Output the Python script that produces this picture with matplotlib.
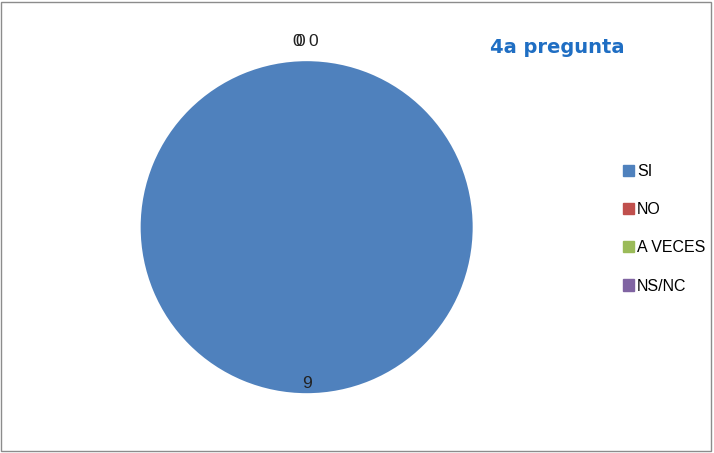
import numpy as np
import matplotlib.pyplot as plt
from matplotlib.patches import Rectangle

categories = ["SI", "NO", "A VECES", "NS/NC"]
values = [9, 0, 0, 0]
colors = ["#4F81BD", "#C0504D", "#9BBB59", "#8064A2"]
title = "4a pregunta"

fig = plt.figure(figsize=(7.14, 4.53), dpi=100)
ax = fig.add_axes([0.197, 0.132, 0.465, 0.733])

wedges, _ = ax.pie(values, colors=colors, startangle=90, counterclock=False,
                   wedgeprops=dict(linewidth=0))
ax.set_aspect("equal")
ax.set_xlim(-1, 1)
ax.set_ylim(-1, 1)

# data labels: big slice inside, empty slices just outside the top
total = float(sum(values))
start = 90.0
offsets = [0, -0.06, -0.04, 0.04]
for i, v in enumerate(values):
    span = 360.0 * v / total
    mid = np.deg2rad(start - span / 2)
    r = 0.94 if v > 0 else 1.12
    x = r * np.cos(mid) + offsets[i]
    y = r * np.sin(mid)
    ax.text(x, y, str(v), ha="center", va="center", fontsize=12.5,
            color="#222222", family="Liberation Sans")
    start -= span

fig.text(0.78, 0.895, title, ha="center", va="center", fontsize=14,
         fontweight="bold", color="#1F6EC3", family="DejaVu Sans")

handles = [plt.Rectangle((0, 0), 1, 1, color=c) for c in colors]
fig.legend(handles, categories, loc="center left",
           bbox_to_anchor=(0.852, 0.495), frameon=False,
           handlelength=0.7, handleheight=0.7, handletextpad=0.2,
           labelspacing=1.45, prop=dict(family="Liberation Sans", size=11.5))

fig.patches.append(Rectangle((0.002, 0.004), 0.994, 0.992, transform=fig.transFigure,
                             fill=False, edgecolor="#8c8c8c", linewidth=1))

plt.savefig("out.png", dpi=100)
